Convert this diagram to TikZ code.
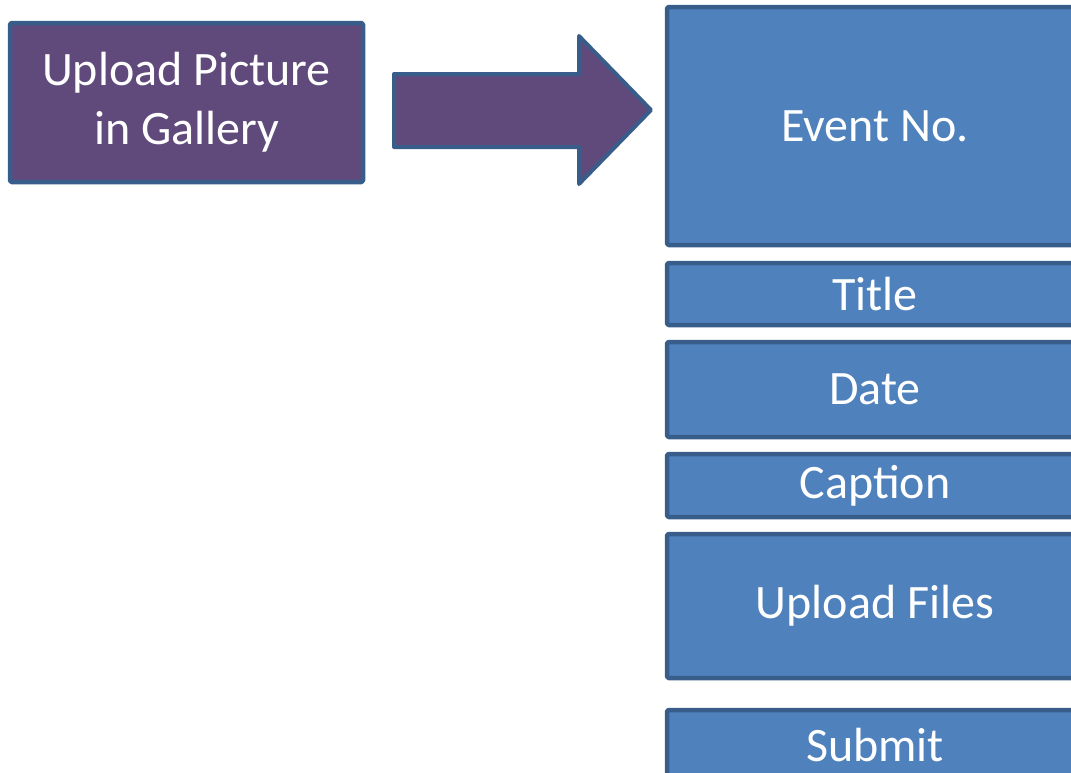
\documentclass[tikz,border=0pt]{standalone}
\usepackage{fontspec}
\setmainfont{Carlito}
\definecolor{boxblue}{HTML}{4F81BD}
\definecolor{boxpurple}{HTML}{604A7B}
\definecolor{edgeblue}{HTML}{385D8A}
\begin{document}
\begin{tikzpicture}[x=1pt,y=-1pt, line join=round,
    box/.style={draw=edgeblue, line width=4.5pt, rounded corners=1.5pt, text=white,
        font=\fontsize{48}{59}\selectfont, align=center, inner sep=0pt},
    fieldbox/.style={box, fill=boxblue, minimum width=416pt}]
        \def\xmax{1071} \def\ymax{772}
        \useasboundingbox (0,0) rectangle (\xmax,\ymax);
        \clip (0,0) rectangle (\xmax,\ymax);
        % start box
        \node[box, fill=boxpurple, minimum width=353pt, minimum height=159pt] (upload) at (186.5,102.5) {Upload Picture\\in Gallery};
        % block arrow
        \draw[edgeblue, line width=4pt, fill=boxpurple]
        (394,74)--(579,74)--(579,36)--(651,110)--(579,184)--(579,147)--(394,147)--cycle;
        % form fields
        \node[fieldbox, minimum height=238pt] (event) at (875,126) {Event No.};
        \node[fieldbox, minimum height=62pt] (title) at (875,294) {Title};
        \node[fieldbox, minimum height=95pt] (date) at (875,389.5) {Date};
        \node[fieldbox, minimum height=63pt] (caption) at (875,485.5) {Caption};
        \node[fieldbox, minimum height=144pt] (files) at (875,606) {Upload Files};
        \node[fieldbox, minimum height=70pt] (submit) at (875,745) {Submit};
    \end{tikzpicture}
\end{document}
